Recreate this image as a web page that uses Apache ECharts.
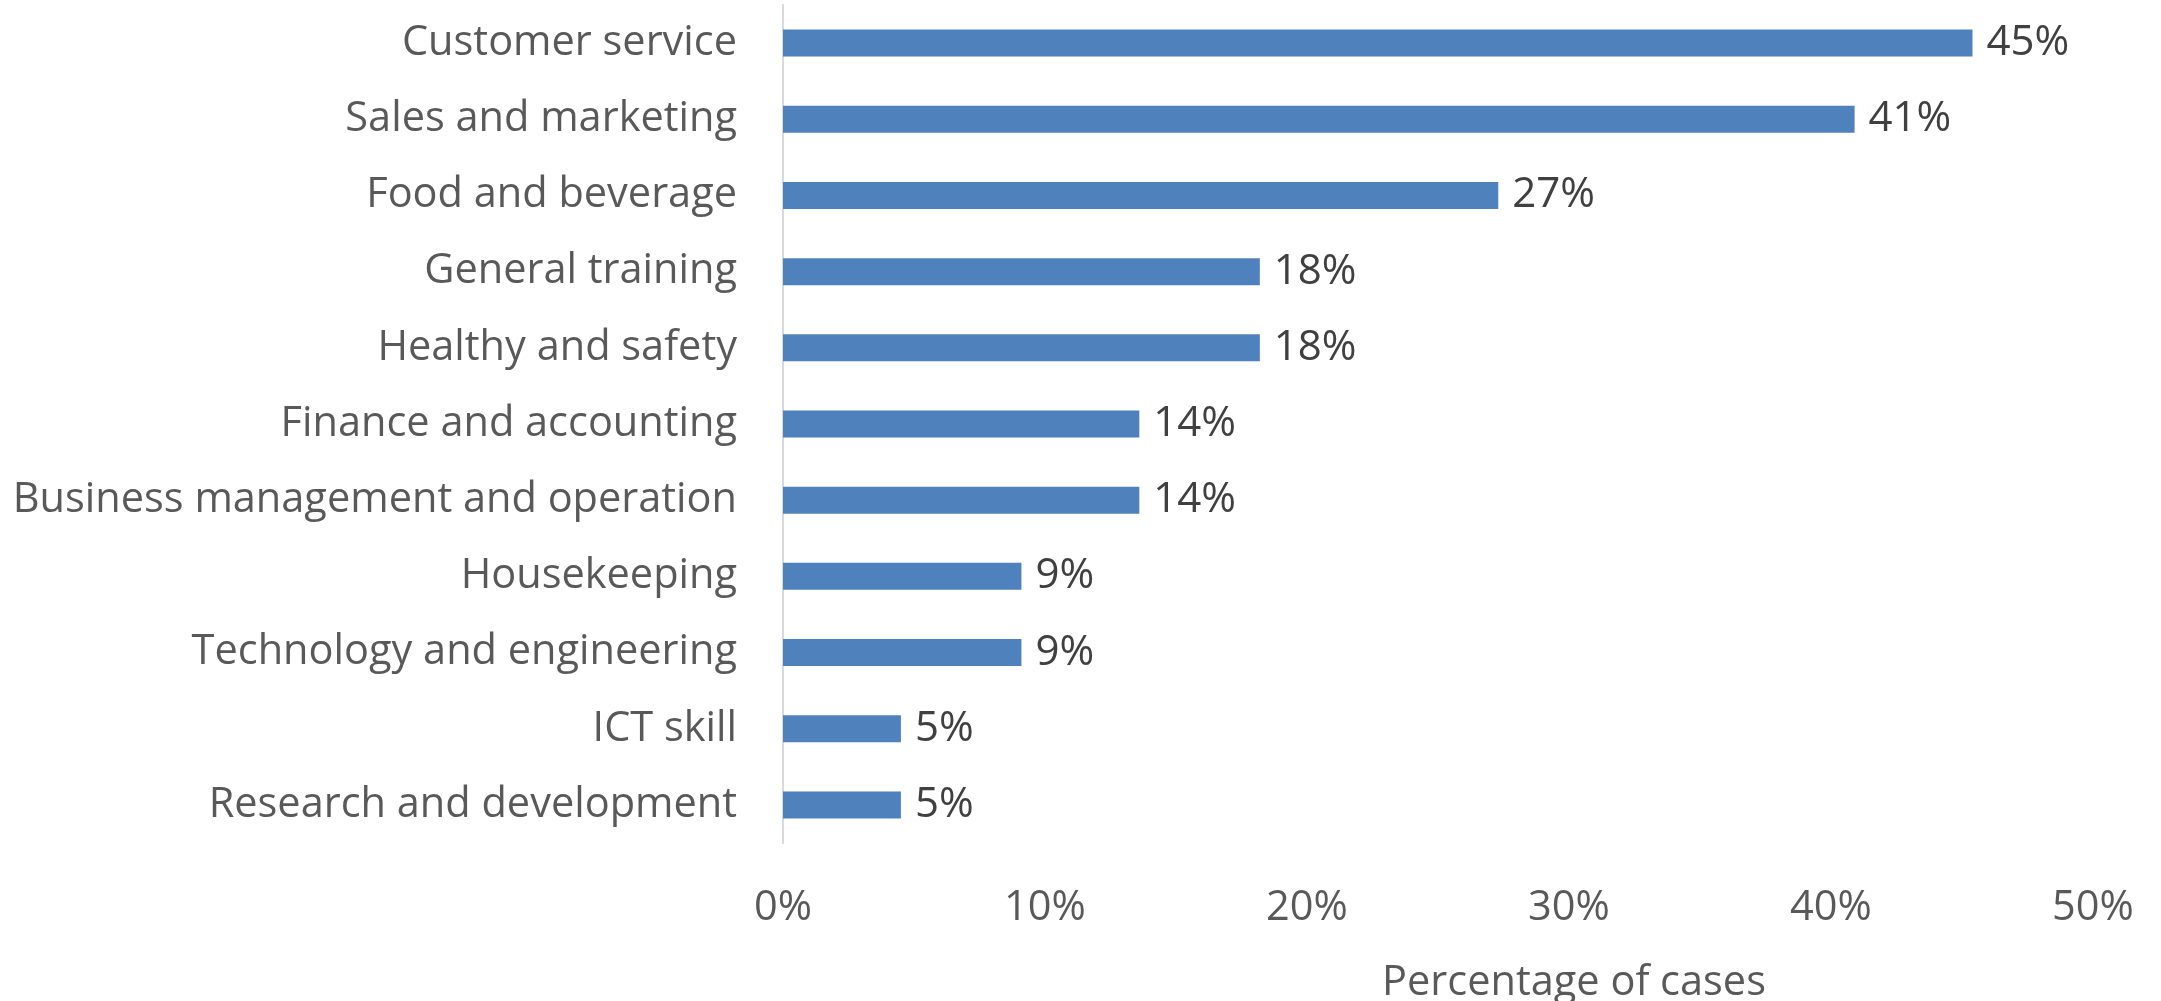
<!DOCTYPE html>
<html><head><meta charset="utf-8">
<script src="https://cdn.jsdelivr.net/npm/echarts@6/dist/echarts.min.js"></script>
<style>html,body{margin:0;padding:0;background:#fff}#c{width:2161px;height:1001px}</style>
</head><body><div id="c"></div>
<script>
const categories = ["Customer service","Sales and marketing","Food and beverage","General training","Healthy and safety","Finance and accounting","Business management and operation","Housekeeping","Technology and engineering","ICT skill","Research and development"];
const values = [0.454,0.409,0.273,0.182,0.182,0.136,0.136,0.091,0.091,0.045,0.045];
const axisTitle = "Percentage of cases";
const FONT = "Open Sans";
const chart = echarts.init(document.getElementById('c'));
chart.setOption({
  animation:false,
  grid:{left:783,right:68,top:5,bottom:158,containLabel:false,outerBoundsMode:'none'},
  xAxis:{type:'value',min:0,max:0.5,interval:0.1,
    axisLine:{show:false},axisTick:{show:false},splitLine:{show:false},
    axisLabel:{margin:44,color:'#595959',fontFamily:FONT,fontSize:41.5,formatter:v=>Math.round(v*100)+'%'},
    name:axisTitle,nameLocation:'middle',nameGap:119,
    nameTextStyle:{color:'#595959',fontFamily:FONT,fontSize:41.5,padding:[0,0,0,272]}},
  yAxis:{type:'category',data:categories,inverse:true,
    axisLine:{show:true,lineStyle:{color:'#D9D9D9',width:2}},axisTick:{show:false},
    axisLabel:{margin:46,color:'#595959',fontFamily:FONT,fontSize:41.5}},
  series:[{type:'bar',data:values,barWidth:27,
    itemStyle:{color:'#4F81BD'},
    label:{show:true,position:'right',distance:14,color:'#404040',fontFamily:FONT,fontSize:42,
      formatter:p=>Math.round(p.value*100)+'%'}}]
});
</script></body></html>
